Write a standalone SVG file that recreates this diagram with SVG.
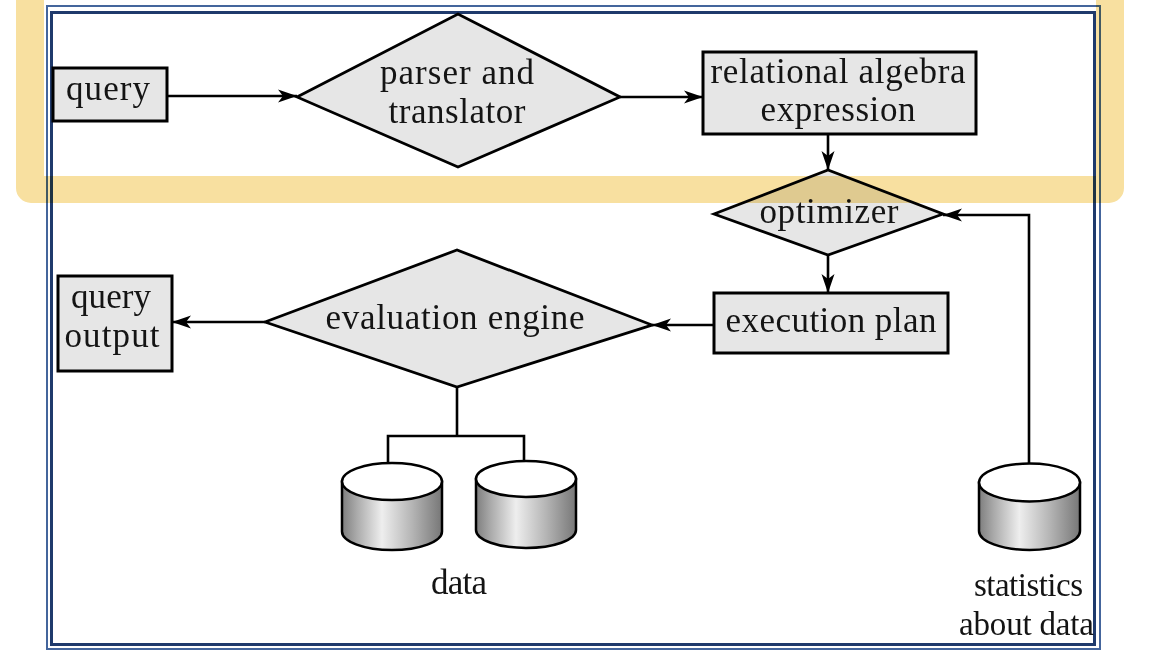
<svg xmlns="http://www.w3.org/2000/svg" width="1158" height="662" viewBox="0 0 1158 662">
  <style>
    .box { fill: #e6e6e6; stroke: #000; stroke-width: 3; }
    .dia { fill: #e6e6e6; stroke: #000; stroke-width: 2.8; stroke-linejoin: miter; }
    .lbl { font-family: "Liberation Serif", "Times New Roman", serif; font-size: 35px; fill: #141414; text-anchor: middle; }
    .small { font-size: 33px; }
    .conn { fill: none; stroke: #000; stroke-width: 2.6; }
    .cylbody { fill: url(#cylGrad); stroke: #000; stroke-width: 2.5; }
    .cyltop { fill: #fff; stroke: #000; stroke-width: 2.5; }
  </style>
  <defs>
    <linearGradient id="cylGrad" x1="0" y1="0" x2="1" y2="0">
      <stop offset="0" stop-color="#7e7e7e"/>
      <stop offset="0.15" stop-color="#ababab"/>
      <stop offset="0.4" stop-color="#eeeeee"/>
      <stop offset="0.7" stop-color="#b5b5b5"/>
      <stop offset="1" stop-color="#777777"/>
    </linearGradient>
    <marker id="arrow" markerUnits="userSpaceOnUse" viewBox="0 0 20 14" refX="19" refY="7" markerWidth="20" markerHeight="14" orient="auto">
      <path d="M0,0.5 L19,7 L0,13.5 L5,7 Z" fill="#000"/>
    </marker>
  </defs>

  <rect width="1158" height="662" fill="#fff"/>

  <g id="frame" fill="none">
    <rect x="47" y="6" width="1053" height="643" stroke="#44659c" stroke-width="2"/>
    <rect x="51.5" y="12.5" width="1043" height="632" stroke="#1f3a6c" stroke-width="3"/>
  </g>

  <g id="connectors">
    <line class="conn" x1="167" y1="96" x2="297" y2="96" marker-end="url(#arrow)"/>
    <line class="conn" x1="620" y1="97" x2="703" y2="97" marker-end="url(#arrow)"/>
    <line class="conn" x1="828" y1="134" x2="828" y2="170" marker-end="url(#arrow)"/>
    <line class="conn" x1="828" y1="255" x2="828" y2="293" marker-end="url(#arrow)"/>
    <line class="conn" x1="714" y1="325" x2="652" y2="325" marker-end="url(#arrow)"/>
    <line class="conn" x1="265" y1="322" x2="172" y2="322" marker-end="url(#arrow)"/>
    <polyline class="conn" points="457,387 457,436"/>
    <polyline class="conn" points="388,463 388,436 524,436 524,461"/>
    <polyline class="conn" stroke-width="2.2" points="1029,464 1029,215 943,215" marker-end="url(#arrow)"/>
  </g>

  <g id="query">
    <rect class="box" x="53" y="68" width="114" height="53"/>
    <text class="lbl" x="108" y="100" textLength="84" lengthAdjust="spacing">query</text>
  </g>

  <g id="parser">
    <polygon class="dia" points="297,97 458,14 620,97 458,167"/>
    <text class="lbl" x="457" y="84" textLength="154" lengthAdjust="spacing">parser and</text>
    <text class="lbl" x="457" y="123" textLength="137" lengthAdjust="spacing">translator</text>
  </g>

  <g id="relalg">
    <rect class="box" x="703" y="52" width="273" height="82"/>
    <text class="lbl" x="838" y="83" textLength="255" lengthAdjust="spacing">relational algebra</text>
    <text class="lbl" x="838" y="121" textLength="155" lengthAdjust="spacing">expression</text>
  </g>

  <g id="optimizer">
    <polygon class="dia" points="714,214 828,170 943,214 828,255"/>
    <text class="lbl" x="829" y="223" textLength="139" lengthAdjust="spacing">optimizer</text>
  </g>

  <g id="execplan">
    <rect class="box" x="714" y="293" width="234" height="60"/>
    <text class="lbl" x="831" y="332" textLength="211" lengthAdjust="spacing">execution plan</text>
  </g>

  <g id="evalengine">
    <polygon class="dia" points="265,322 457,250 652,325 457,387"/>
    <text class="lbl" x="455" y="329" textLength="259" lengthAdjust="spacing">evaluation engine</text>
  </g>

  <g id="queryoutput">
    <rect class="box" x="58" y="276" width="114" height="95"/>
    <text class="lbl" x="111" y="308" textLength="80" lengthAdjust="spacing">query</text>
    <text class="lbl" x="112" y="347" textLength="95" lengthAdjust="spacing">output</text>
  </g>

  <g id="data">
    <path class="cylbody" d="M342,481.5 V531.5 A50,18.5 0 0 0 442,531.5 V481.5 Z"/>
    <ellipse class="cyltop" cx="392" cy="481.5" rx="50" ry="18.5"/>
    <path class="cylbody" d="M476,479 V530 A50,18 0 0 0 576,530 V479 Z"/>
    <ellipse class="cyltop" cx="526" cy="479" rx="50" ry="18"/>
    <text class="lbl" x="459" y="594" textLength="56" lengthAdjust="spacing">data</text>
  </g>

  <g id="statistics">
    <path class="cylbody" d="M979,482.5 V531 A50.5,19 0 0 0 1080,531 V482.5 Z"/>
    <ellipse class="cyltop" cx="1029.5" cy="482.5" rx="50.5" ry="19"/>
    <text class="lbl small" x="1028.5" y="596" textLength="109" lengthAdjust="spacing">statistics</text>
    <text class="lbl small" x="1026.5" y="635" textLength="135" lengthAdjust="spacing">about data</text>
  </g>

  <g id="highlight">
    <path d="M16,-10 V188 A15,15 0 0 0 31,203 H1109 A15,15 0 0 0 1124,188 V-10 H1096 V176 H44 V-10 Z" fill="#f8e0a0" style="mix-blend-mode:multiply"/>
  </g>
</svg>
